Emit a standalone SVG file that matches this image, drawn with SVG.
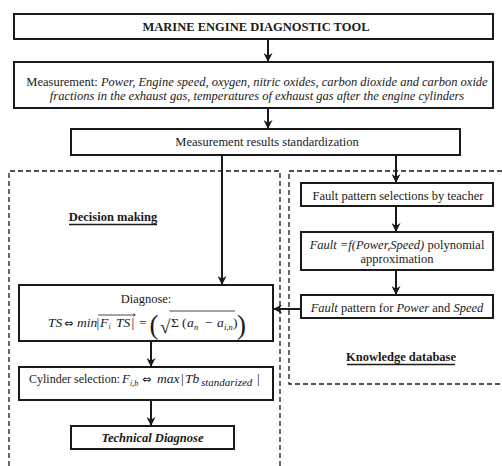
<svg xmlns="http://www.w3.org/2000/svg" width="502" height="466" viewBox="0 0 502 466">
<style>
  .box { fill: #fff; stroke: #1a1a1a; stroke-width: 2; }
  .dash { fill: none; stroke: #1a1a1a; stroke-width: 1.3; stroke-dasharray: 5 3; }
  .conn { fill: none; stroke: #1a1a1a; stroke-width: 2; }
  .t { font-family: "Liberation Serif", "DejaVu Serif", serif; font-size: 12.5px; fill: #1a1a1a; }
  .c { text-anchor: middle; }
  .b { font-weight: bold; }
  .i { font-style: italic; }
  .m { font-family: "Liberation Serif", "DejaVu Serif", serif; fill: #1a1a1a; }
  .sym { font-family: "DejaVu Sans", sans-serif; fill: #1a1a1a; }
  .ul { stroke: #1a1a1a; stroke-width: 1.5; }
</style>
<defs>
  <marker id="ah" viewBox="0 0 10 10" refX="10" refY="5" markerWidth="9" markerHeight="9" markerUnits="userSpaceOnUse" orient="auto">
    <path d="M0,0 L10,5 L0,10 L3,5 z" fill="#1a1a1a"/>
  </marker>
</defs>
<rect width="502" height="466" fill="#fff"/>

<g id="regions">
  <path class="dash" d="M9,466 V171 H280 V466"/>
  <path class="dash" d="M502,171 H289 V384 H502"/>
  <g id="decision-making-label">
    <text class="t b c" x="113" y="221">Decision making</text>
    <line class="ul" x1="69" y1="224.5" x2="157" y2="224.5"/>
  </g>
  <g id="knowledge-database-label">
    <text class="t b c" x="401" y="361">Knowledge database</text>
    <line class="ul" x1="347" y1="364.5" x2="455" y2="364.5"/>
  </g>
</g>

<g id="connectors">
  <line class="conn" x1="268" y1="40" x2="268" y2="62" marker-end="url(#ah)"/>
  <line class="conn" x1="268" y1="108" x2="268" y2="129" marker-end="url(#ah)"/>
  <line class="conn" x1="222" y1="155" x2="222" y2="285" marker-end="url(#ah)"/>
  <line class="conn" x1="396" y1="155" x2="396" y2="183" marker-end="url(#ah)"/>
  <line class="conn" x1="396" y1="206" x2="396" y2="232" marker-end="url(#ah)"/>
  <line class="conn" x1="396" y1="270" x2="396" y2="295" marker-end="url(#ah)"/>
  <line class="conn" x1="301" y1="309" x2="273" y2="309" marker-end="url(#ah)"/>
  <line class="conn" x1="151" y1="341" x2="151" y2="367" marker-end="url(#ah)"/>
  <line class="conn" x1="151" y1="400" x2="151" y2="426" marker-end="url(#ah)"/>
</g>

<g id="title">
  <rect class="box" x="14" y="14" width="479" height="25"/>
  <text class="t b c" x="256" y="31">MARINE ENGINE DIAGNOSTIC TOOL</text>
</g>

<g id="measurement">
  <rect class="box" x="14" y="62" width="479" height="46"/>
  <text class="t c" x="257" y="86">Measurement: <tspan class="i">Power, Engine speed, oxygen, nitric oxides, carbon dioxide and carbon oxide</tspan></text>
  <text class="t c i" x="257" y="100">fractions in the exhaust gas, temperatures of exhaust gas after the engine cylinders</text>
</g>

<g id="standardization">
  <rect class="box" x="71" y="129" width="389" height="26"/>
  <text class="t c" x="267" y="146">Measurement results standardization</text>
</g>

<g id="fault-selection">
  <rect class="box" x="301" y="183" width="192" height="23"/>
  <text class="t c" x="398" y="200">Fault pattern selections by teacher</text>
</g>

<g id="fault-approx">
  <rect class="box" x="301" y="232" width="192" height="38"/>
  <text class="t c" x="397" y="249"><tspan class="i">Fault =f(Power,Speed)</tspan> polynomial</text>
  <text class="t c" x="397" y="263">approximation</text>
</g>

<g id="fault-pattern">
  <rect class="box" x="301" y="295" width="192" height="23"/>
  <text class="t c" x="397" y="312"><tspan class="i">Fault</tspan> pattern for <tspan class="i">Power</tspan> and <tspan class="i">Speed</tspan></text>
</g>

<g id="diagnose">
  <rect class="box" x="19" y="285" width="254" height="56"/>
  <text class="t c" x="146" y="303">Diagnose:</text>
  <text class="m i" x="48" y="327" style="font-size:13.5px">TS</text>
  <text class="sym" x="64" y="326.5" style="font-size:11px">⇔</text>
  <text class="m i" x="77" y="327" style="font-size:13.5px">min</text>
  <text class="m" x="96.5" y="327" style="font-size:13.5px">|</text>
  <text class="m i" x="100" y="327" style="font-size:13.5px">F</text>
  <text class="m i" x="108.5" y="329" style="font-size:7.5px">i</text>
  <text class="m i" x="116" y="327" style="font-size:13.5px">TS</text>
  <text class="m" x="131.5" y="327" style="font-size:13.5px">|</text>
  <line stroke="#1a1a1a" stroke-width="0.8" x1="98" y1="315" x2="135" y2="315"/>
  <path d="M133,313.5 L135.5,315 L133,316.5" fill="none" stroke="#1a1a1a" stroke-width="0.6"/>
  <text class="m" x="139" y="327" style="font-size:13.5px">=</text>
  <text class="m" x="149.5" y="334" style="font-size:27px">(</text>
  <text class="m" x="160" y="333" style="font-size:19px">√</text>
  <line stroke="#1a1a1a" stroke-width="0.8" x1="169.5" y1="311" x2="235" y2="311"/>
  <text class="m" x="171" y="327" style="font-size:13.5px">Σ</text>
  <text class="m" x="182" y="327" style="font-size:13.5px">(</text>
  <text class="m i" x="187" y="327" style="font-size:13.5px">a</text>
  <text class="m i" x="194" y="330" style="font-size:8.5px">n</text>
  <text class="m" x="205" y="327" style="font-size:13.5px">−</text>
  <text class="m i" x="217" y="327" style="font-size:13.5px">a</text>
  <text class="m i" x="224" y="330" style="font-size:8.5px">i,n</text>
  <text class="m" x="233" y="327" style="font-size:13.5px">)</text>
  <text class="m" x="237" y="334" style="font-size:27px">)</text>
</g>

<g id="cylinder-selection">
  <rect class="box" x="19" y="367" width="254" height="33"/>
  <text class="t" x="29" y="383" style="font-size:12px">Cylinder selection:</text>
  <text class="m i" x="122" y="383" style="font-size:13px">F</text>
  <text class="m i" x="130" y="385.5" style="font-size:8px">i,b</text>
  <text class="sym" x="142" y="382.5" style="font-size:11px">⇔</text>
  <text class="m i" x="157" y="383" style="font-size:13.5px">max</text>
  <text class="m" x="181" y="383" style="font-size:13.5px">|</text>
  <text class="m i" x="185" y="383" style="font-size:13.5px">Tb</text>
  <text class="m i" x="201" y="385.5" style="font-size:11px">standarized</text>
  <text class="m" x="257" y="383" style="font-size:13.5px">|</text>
</g>

<g id="technical-diagnose">
  <rect class="box" x="71" y="426" width="163" height="23"/>
  <text class="t b i c" x="152.5" y="442">Technical Diagnose</text>
</g>
</svg>
